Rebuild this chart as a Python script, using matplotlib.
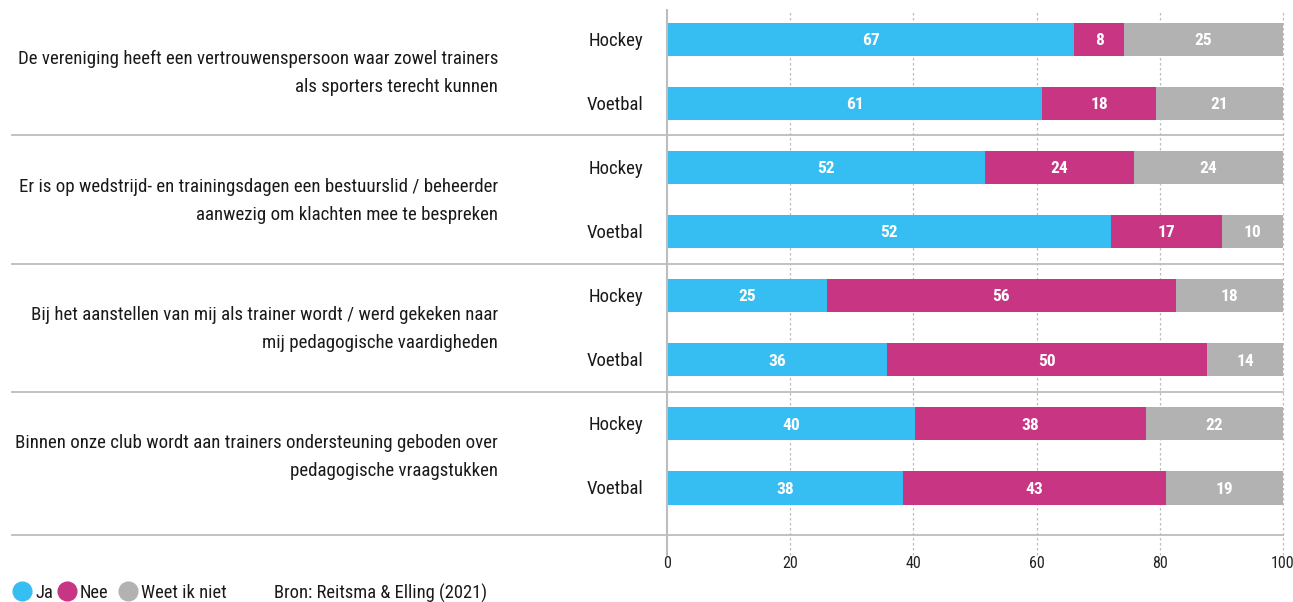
import matplotlib
matplotlib.use("Agg")
import matplotlib.pyplot as plt
from matplotlib.lines import Line2D

# ---- data ----
questions = [
    "De vereniging heeft een vertrouwenspersoon waar zowel trainers\nals sporters terecht kunnen",
    "Er is op wedstrijd- en trainingsdagen een bestuurslid / beheerder\naanwezig om klachten mee te bespreken",
    "Bij het aanstellen van mij als trainer wordt / werd gekeken naar\nmij pedagogische vaardigheden",
    "Binnen onze club wordt aan trainers ondersteuning geboden over\npedagogische vraagstukken",
]
sports = ["Hockey", "Voetbal"]
# bar widths as drawn
ja_w   = [66.1, 60.9, 51.6, 72.1, 26.0, 35.7, 40.3, 38.3]
nee_w  = [8.1, 18.5, 24.2, 18.0, 56.6, 52.0, 37.5, 42.7]
weet_w = [25.8, 20.6, 24.2, 9.9, 17.4, 12.3, 22.2, 19.0]
# printed labels
ja_lbl   = [67, 61, 52, 52, 25, 36, 40, 38]
nee_lbl  = [8, 18, 24, 17, 56, 50, 38, 43]
weet_lbl = [25, 21, 24, 10, 18, 14, 22, 19]
xticks = [0, 20, 40, 60, 80, 100]
series_names = ["Ja", "Nee", "Weet ik niet"]
source = "Bron: Reitsma & Elling (2021)"

C_JA = "#36BEF2"
C_NEE = "#C83583"
C_WEET = "#B2B2B2"
GRID = "#BDBDBD"
FONT = ["Roboto Condensed", "Liberation Sans Narrow", "Roboto", "DejaVu Sans"]
plt.rcParams["font.family"] = FONT

W, H = 1293, 602
fig = plt.figure(figsize=(W / 100, H / 100), dpi=100)
ax = fig.add_axes([667 / W, 1 - 535 / H, 616 / W, 525 / H])
ax.set_xlim(0, 100)
ax.set_ylim(7.733, -0.456)
for s in ax.spines.values():
    s.set_visible(False)
ax.set_xticks([])
ax.set_yticks([])

n = len(ja_w)
ypos = list(range(n))
bh = 0.515

# gridlines
xt = ax.get_xaxis_transform()
for x in xticks:
    if x == 0:
        continue
    ax.plot([x, x], [-0.038, 1], transform=xt, color=GRID, lw=0.9,
            ls=(0, (2, 2)), clip_on=False, zorder=0)

lefts = [0] * n
for widths, labels, col in [(ja_w, ja_lbl, C_JA), (nee_w, nee_lbl, C_NEE), (weet_w, weet_lbl, C_WEET)]:
    ax.barh(ypos, widths, left=lefts, height=bh, color=col, zorder=2)
    for i in range(n):
        cx = lefts[i] + widths[i] / 2
        ax.text(cx, ypos[i] + 0.02, str(labels[i]), ha="center", va="center",
                color="white", fontsize=12.5, fontweight="bold", zorder=3)
    lefts = [lefts[i] + widths[i] for i in range(n)]

# zero line
ax.plot([0, 0], [-0.038, 1], transform=xt, color=GRID, lw=1.5, clip_on=False, zorder=4)

# separators and bottom line
for y in [1.5, 3.5, 5.5, 7.733]:
    ax.axhline(y, xmin=(12 - 667) / 616, xmax=1, color=GRID, lw=1.3, clip_on=False, zorder=1)

# tick labels
for x in xticks:
    ax.text(x, -0.04, str(x), transform=xt, ha="center", va="top", fontsize=11.5, color="#222222")

# category labels
for i in range(n):
    ax.text(-0.039, ypos[i] + 0.02, sports[i % 2], transform=ax.get_yaxis_transform(),
            ha="right", va="center", fontsize=13.5, color="#1a1a1a")

# question labels
for g, q in enumerate(questions):
    ax.text(-0.274, 2 * g + 0.52, q, transform=ax.get_yaxis_transform(),
            ha="right", va="center", fontsize=13.6, color="#1a1a1a", linespacing=1.72)

# legend
ly = 1 - 591 / H
lty = 1 - 593 / H
for cx, tx, col, name in [(21.7, 35, C_JA, series_names[0]), (67, 80, C_NEE, series_names[1]),
                          (127.5, 140.7, C_WEET, series_names[2])]:
    fig.add_artist(Line2D([cx / W], [ly], marker="o", markersize=13.5, color=col, lw=0,
                          transform=fig.transFigure))
    fig.text(tx / W, lty, name, ha="left", va="center", fontsize=13.3, color="#1a1a1a")
fig.text(274 / W, lty, source, ha="left", va="center", fontsize=13.3, color="#1a1a1a")

fig.savefig("out.png", dpi=100)
